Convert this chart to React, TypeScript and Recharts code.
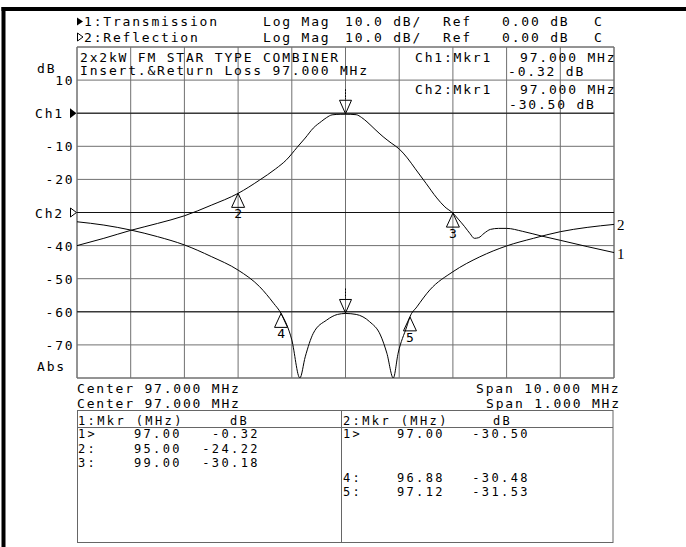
import {
  CartesianGrid,
  Line,
  LineChart,
  ReferenceArea,
  ReferenceDot,
  ReferenceLine,
  XAxis,
  YAxis
} from "recharts";

// Ch1 transmission, span 10 MHz
const transFreq = [92.0, 92.5, 93.0, 93.5, 94.0, 94.5, 95.0, 95.4, 95.7, 95.9, 96.1, 96.25, 96.4, 96.55, 96.65, 96.75, 96.9, 97.0, 97.1, 97.2, 97.3, 97.4, 97.55, 97.7, 97.85, 98.0, 98.15, 98.3, 98.5, 98.7, 98.85, 99.0, 99.1, 99.22, 99.32, 99.4, 99.48, 99.58, 99.7, 99.85, 100.0, 100.3, 100.65, 101.0, 101.5, 102.0];
const transDb = [-40.0, -37.8, -35.4, -33.3, -31.0, -27.8, -24.22, -20.2, -16.8, -14.1, -10.3, -7.5, -4.5, -2.5, -1.3, -0.5, -0.33, -0.32, -0.34, -0.45, -1.3, -2.6, -4.9, -7.1, -9.0, -10.8, -13.5, -16.8, -21.2, -25.6, -28.3, -30.18, -32.0, -34.3, -36.4, -37.8, -37.6, -36.3, -35.1, -34.8, -34.8, -35.7, -37.1, -38.4, -40.3, -42.1];

// Ch2 reflection, span 1 MHz
const reflFreq = [96.5, 96.55, 96.6, 96.65, 96.7, 96.75, 96.8, 96.84, 96.866, 96.88, 96.9, 96.915, 96.925, 96.94, 96.965, 96.985, 97.0, 97.02, 97.045, 97.065, 97.077, 97.089, 97.098, 97.114, 97.12, 97.133, 97.157, 97.2, 97.25, 97.3, 97.35, 97.4, 97.45, 97.5];
const reflDb = [-2.8, -3.8, -5.3, -7.3, -9.8, -13.3, -17.4, -22.4, -27.4, -30.48, -38.5, -50.0, -43.6, -36.5, -32.5, -30.8, -30.5, -30.8, -33.0, -37.0, -42.5, -50.0, -42.5, -34.5, -31.53, -28.5, -23.4, -17.9, -13.4, -10.1, -7.8, -5.8, -4.5, -3.6];

const ch1Mkr = [
  { n: 1, f: 97.0, db: -0.32 },
  { n: 2, f: 95.0, db: -24.22 },
  { n: 3, f: 99.0, db: -30.18 }
];
const ch2Mkr = [
  { n: 1, f: 97.0, db: -30.5 },
  { n: 4, f: 96.88, db: -30.48 },
  { n: 5, f: 97.12, db: -31.53 }
];

const xTicks = [92, 93, 94, 95, 96, 97, 98, 99, 100, 101, 102];
const yTicks = [20, 10, 0, -10, -20, -30, -40, -50, -60, -70, -80];
const darkLines = [0, -30, -60];

const transData = transFreq.map((f, i) => ({ f, db: transDb[i] }));
const reflData = reflFreq.map((f, i) => ({ f, db: reflDb[i] }));

const font = "'DejaVu Sans Mono', 'Liberation Mono', monospace";
const txt: any = { fontFamily: font, fontSize: 13, letterSpacing: 1.8, fill: "#000" };
const tbl: any = { fontFamily: font, fontSize: 12, letterSpacing: 2.4, fill: "#000" };

const YTick = (p: any) => {
  const v = p.payload.value;
  const y = p.y;
  if (v === 20 || v === -80) return <g />;
  if (v === 0)
    return (
      <g>
        <text x={35} y={y + 5} {...txt}>Ch1</text>
        <polygon points={`70,${y - 5} 76.5,${y} 70,${y + 5}`} fill="#000" />
      </g>
    );
  if (v === -30)
    return (
      <g>
        <text x={35} y={y + 5} {...txt}>Ch2</text>
        <polygon points={`70.5,${y - 4.5} 76.5,${y} 70.5,${y + 4.5}`} fill="#fff" stroke="#000" />
      </g>
    );
  return (
    <text x={74.5} y={y + 5} textAnchor="end" {...txt}>
      {v}
    </text>
  );
};

const downMarker = (p: any) => (
  <g>
    <line x1={p.cx} y1={p.cy - 25} x2={p.cx} y2={p.cy - 15} stroke="#000" strokeDasharray="2 1" />
    <polygon points={`${p.cx},${p.cy - 0.5} ${p.cx - 6},${p.cy - 14} ${p.cx + 6},${p.cy - 14}`} fill="none" stroke="#000" />
  </g>
);

const upMarker = (n: number) => (p: any) => (
  <g>
    <polygon points={`${p.cx},${p.cy} ${p.cx - 6.5},${p.cy + 14} ${p.cx + 6.5},${p.cy + 14}`} fill="none" stroke="#000" />
    <text x={p.cx} y={p.cy + 25} textAnchor="middle" fontFamily={font} fontSize={13} fill="#000">
      {n}
    </text>
  </g>
);

const endLabel = (s: string) => (p: any) => (
  <text x={p.cx + 3} y={p.cy + 6} fontFamily="'Liberation Serif', serif" fontSize={15} fill="#000">
    {s}
  </text>
);

const rowY = (n: number) => 438 + (n - 1) * 14.6;

const App = () => {
  const last1 = transData[transData.length - 1];
  const last2 = reflData[reflData.length - 1];
  return (
    <div style={{ position: "absolute", left: 0, top: 0, width: 686, height: 547, background: "#fff" }}>
      <LineChart width={686} height={547} margin={{ top: 47, right: 72, bottom: 169, left: 17 }}>
        <XAxis xAxisId="f1" type="number" dataKey="f" domain={[92, 102]} ticks={xTicks} hide allowDataOverflow />
        <XAxis xAxisId="f2" type="number" dataKey="f" domain={[96.5, 97.5]} hide allowDataOverflow />
        <YAxis
          yAxisId="d1"
          type="number"
          domain={[-80, 20]}
          ticks={yTicks}
          interval={0}
          width={60}
          axisLine={false}
          tickLine={false}
          tick={<YTick />}
          allowDataOverflow
        />
        <YAxis yAxisId="d2" type="number" domain={[-50, 50]} hide allowDataOverflow />
        <CartesianGrid xAxisId="f1" yAxisId="d1" stroke="#707070" />
        <ReferenceArea xAxisId="f1" yAxisId="d1" x1={92} x2={102} y1={-80} y2={20} fill="none" stroke="#707070" ifOverflow="visible" />
        {darkLines.map((v) => (
          <ReferenceLine key={v} xAxisId="f1" yAxisId="d1" y={v} stroke="#111" />
        ))}
        <Line
          xAxisId="f1"
          yAxisId="d1"
          data={transData}
          dataKey="db"
          type="monotone"
          stroke="#000"
          strokeWidth={1}
          dot={false}
          isAnimationActive={false}
        />
        <Line
          xAxisId="f2"
          yAxisId="d2"
          data={reflData}
          dataKey="db"
          type="monotone"
          stroke="#000"
          strokeWidth={1}
          dot={false}
          isAnimationActive={false}
        />
        {ch1Mkr.map((m) => (
          <ReferenceDot
            key={`a${m.n}`}
            xAxisId="f1"
            yAxisId="d1"
            x={m.f}
            y={m.db}
            r={1}
            ifOverflow="visible"
            shape={m.n === 1 ? downMarker : upMarker(m.n)}
          />
        ))}
        {ch2Mkr.map((m) => (
          <ReferenceDot
            key={`b${m.n}`}
            xAxisId="f2"
            yAxisId="d2"
            x={m.f}
            y={m.db}
            r={1}
            ifOverflow="visible"
            shape={m.n === 1 ? downMarker : upMarker(m.n)}
          />
        ))}
        <ReferenceDot xAxisId="f1" yAxisId="d1" x={last1.f} y={last1.db} r={1} ifOverflow="visible" shape={endLabel("1")} />
        <ReferenceDot xAxisId="f2" yAxisId="d2" x={last2.f} y={last2.db} r={1} ifOverflow="visible" shape={endLabel("2")} />
      </LineChart>

      <svg
        width={686}
        height={547}
        style={{ position: "absolute", left: 0, top: 0, pointerEvents: "none" }}
      >
        <rect x={1.5} y={7} width={4} height={540} fill="#000" />
        <rect x={1.5} y={7} width={684.5} height={4} fill="#000" />

        <polygon points="77,17.5 83,21.5 77,25.5" fill="#000" />
        <text x={84} y={26} {...txt}>1:Transmission</text>
        <polygon points="77.5,33 83,37 77.5,41" fill="#fff" stroke="#000" />
        <text x={84} y={41.5} {...txt}>2:Reflection</text>
        {[26, 41.5].map((y) => (
          <g key={y}>
            <text x={263} y={y} {...txt}>Log Mag</text>
            <text x={345} y={y} {...txt}>10.0 dB/</text>
            <text x={443} y={y} {...txt}>Ref</text>
            <text x={502} y={y} {...txt}>0.00 dB</text>
            <text x={594} y={y} {...txt}>C</text>
          </g>
        ))}

        <text x={80} y={61.5} {...txt}>2x2kW FM STAR TYPE COMBINER</text>
        <text x={80} y={75} {...txt}>Insert.&amp;Return Loss 97.000 MHz</text>
        <text x={415} y={62} {...txt}>Ch1:Mkr1</text>
        <text x={520} y={62} {...txt}>{`${ch1Mkr[0].f.toFixed(3)} MHz`}</text>
        <text x={508} y={76} {...txt}>{`${ch1Mkr[0].db.toFixed(2)} dB`}</text>
        <text x={415} y={93.5} {...txt}>Ch2:Mkr1</text>
        <text x={520} y={93.5} {...txt}>{`${ch2Mkr[0].f.toFixed(3)} MHz`}</text>
        <text x={509} y={108.5} {...txt}>{`${ch2Mkr[0].db.toFixed(2)} dB`}</text>

        <text x={37} y={73} {...txt}>dB</text>
        <text x={37} y={371} {...txt}>Abs</text>

        <text x={77} y={393} {...txt}>Center 97.000 MHz</text>
        <text x={77} y={408} {...txt}>Center 97.000 MHz</text>
        <text x={476} y={393} {...txt}>Span 10.000 MHz</text>
        <text x={486} y={408} {...txt}>Span 1.000 MHz</text>

        <rect x={77.5} y={410.5} width={535.5} height={132} fill="none" stroke="#666" />
        <line x1={77.5} y1={427.5} x2={613} y2={427.5} stroke="#666" />
        <line x1={341.5} y1={410.5} x2={341.5} y2={542.5} stroke="#666" />

        <text x={78} y={424.5} {...tbl}>1:Mkr (MHz)</text>
        <text x={230} y={424.5} {...tbl}>dB</text>
        {ch1Mkr.map((m) => (
          <g key={m.n}>
            <text x={78} y={rowY(m.n)} {...tbl}>{m.n === 1 ? "1>" : `${m.n}:`}</text>
            <text x={182} y={rowY(m.n)} textAnchor="end" {...tbl}>{m.f.toFixed(2)}</text>
            <text x={260} y={rowY(m.n)} textAnchor="end" {...tbl}>{m.db.toFixed(2)}</text>
          </g>
        ))}

        <text x={343} y={424.5} {...tbl}>2:Mkr (MHz)</text>
        <text x={493} y={424.5} {...tbl}>dB</text>
        {ch2Mkr.map((m) => (
          <g key={m.n}>
            <text x={343} y={rowY(m.n)} {...tbl}>{m.n === 1 ? "1>" : `${m.n}:`}</text>
            <text x={445} y={rowY(m.n)} textAnchor="end" {...tbl}>{m.f.toFixed(2)}</text>
            <text x={530} y={rowY(m.n)} textAnchor="end" {...tbl}>{m.db.toFixed(2)}</text>
          </g>
        ))}
      </svg>
    </div>
  );
};

export default App;
